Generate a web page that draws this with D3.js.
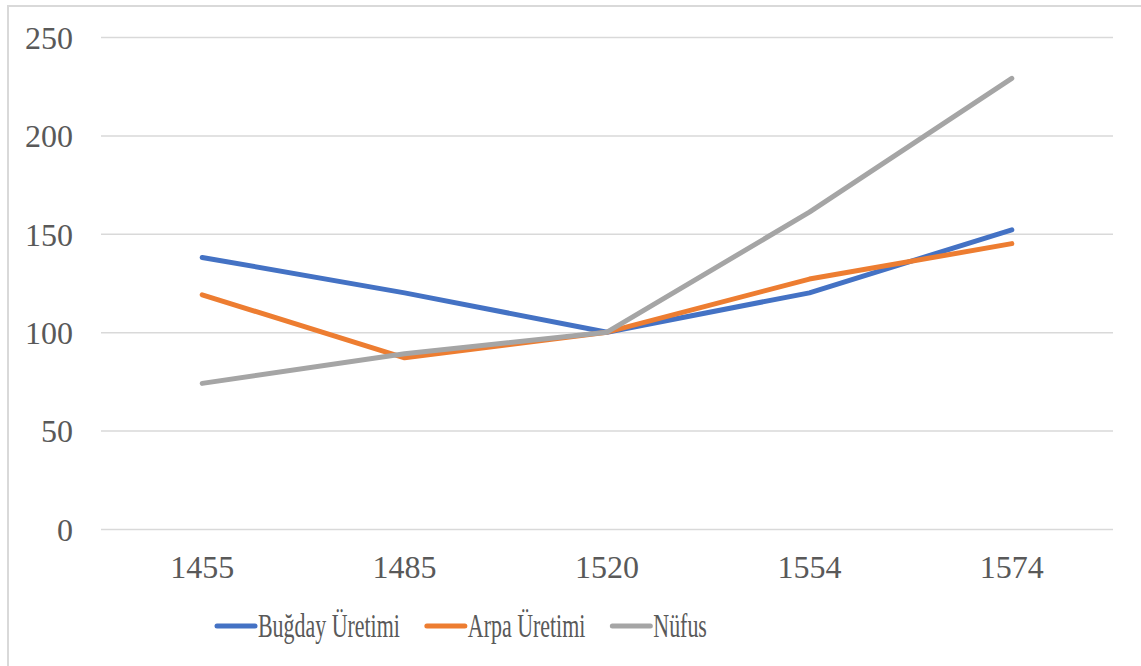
<!DOCTYPE html>
<html>
<head>
<meta charset="utf-8">
<title>Üretim ve Nüfus</title>
<script src="https://d3js.org/d3.v7.min.js"></script>
<style>
  body { margin: 0; background: #fff; }
  svg { display: block; }
</style>
</head>
<body>
<div id="chart"></div>
<script>
// data
const years = ["1455", "1485", "1520", "1554", "1574"];
const bugday = [138, 120, 100, 120, 152];
const arpa = [119, 87, 100, 127, 145];
const nufus = [74, 89, 100, 161, 229];
const seriesNames = ["Buğday Üretimi", "Arpa Üretimi", "Nüfus"];
const yTicks = [0, 50, 100, 150, 200, 250];

const colors = ["#4472C4", "#ED7D31", "#A5A5A5"];
const series = [bugday, arpa, nufus].map((vals, i) => ({ name: seriesNames[i], values: vals, color: colors[i] }));

const W = 1141, H = 666;
const margin = { top: 37, right: 28, bottom: 137, left: 101 };
const w = W - margin.left - margin.right;
const h = H - margin.top - margin.bottom;
const font = "'Liberation Serif', monospace";
const textColor = "#595959";

const svg = d3.select("#chart").append("svg")
    .attr("width", W)
    .attr("height", H);

// chart frame (only top and left edges show in the picture)
svg.append("rect")
    .attr("x", 8).attr("y", 6)
    .attr("width", W + 10).attr("height", H + 10)
    .attr("fill", "none")
    .attr("stroke", "#d9d9d9")
    .attr("stroke-width", 2);

const g = svg.append("g")
    .attr("transform", "translate(" + margin.left + "," + margin.top + ")");

const x = d3.scaleBand().domain(years).range([0, w]);
const y = d3.scaleLinear().domain([0, 250]).range([h, 0]);

// gridlines + y labels
const yAxis = d3.axisLeft(y).tickValues(yTicks).tickSize(-w).tickPadding(28);
g.append("g").call(yAxis)
    .call(s => s.select(".domain").remove())
    .call(s => s.selectAll("line").attr("stroke", "#d9d9d9").attr("stroke-width", 1.5))
    .call(s => s.selectAll("text")
        .attr("fill", textColor)
        .style("font-family", font)
        .style("font-size", "32px")
        .attr("dy", "0.35em"));

// x labels
const xAxis = d3.axisBottom(x).tickSize(0).tickPadding(26);
g.append("g")
    .attr("transform", "translate(0," + h + ")")
    .call(xAxis)
    .call(s => s.select(".domain").remove())
    .call(s => s.selectAll("text")
        .attr("fill", textColor)
        .style("font-family", font)
        .style("font-size", "32px"));

const line = d3.line()
    .x((d, i) => x(years[i]) + x.bandwidth() / 2)
    .y(d => y(d));

g.selectAll(".series")
    .data(series)
    .enter()
    .append("path")
    .attr("class", "series")
    .attr("d", d => line(d.values))
    .attr("fill", "none")
    .attr("stroke", d => d.color)
    .attr("stroke-width", 5)
    .attr("stroke-linecap", "round")
    .attr("stroke-linejoin", "round");

// legend: the text in the picture is squeezed sideways, so scale it in x
const squeeze = 0.645;
const legend = svg.append("g").attr("transform", "translate(217,626)");
let lx = 0;
series.forEach(function(s) {
    const item = legend.append("g").attr("transform", "translate(" + lx + ",0)");
    item.append("line")
        .attr("x1", 0).attr("x2", 38)
        .attr("stroke", s.color)
        .attr("stroke-width", 5)
        .attr("stroke-linecap", "round");
    const t = item.append("text")
        .attr("transform", "translate(41,11) scale(" + squeeze + ",1)")
        .attr("fill", textColor)
        .style("font-family", font)
        .style("font-size", "34px")
        .text(s.name);
    lx += 41 + t.node().getComputedTextLength() * squeeze + 27;
});
</script>
</body>
</html>
